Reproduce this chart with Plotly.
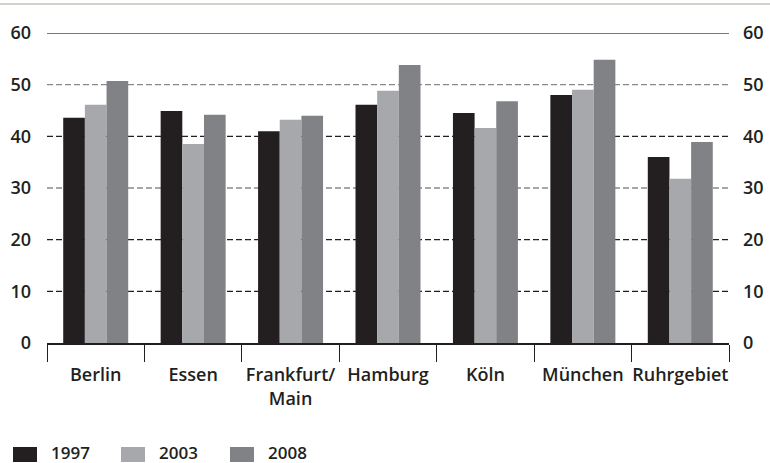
import plotly.graph_objects as go

# ---- data ----
cities = ["Berlin", "Essen", "Frankfurt/<br>Main", "Hamburg", "Köln", "München", "Ruhrgebiet"]
series_names = ["1997", "2003", "2008"]
v1997 = [43.6, 44.9, 41.0, 46.1, 44.5, 48.0, 36.0]
v2003 = [46.1, 38.5, 43.2, 48.8, 41.6, 49.0, 31.8]
v2008 = [50.7, 44.2, 44.0, 53.8, 46.8, 54.8, 38.9]
y_ticks = [0, 10, 20, 30, 40, 50, 60]

series_values = [v1997, v2003, v2008]
colors = ["#231f20", "#a7a8ab", "#808285"]
text_color = "#231f20"
FONT = "Open Sans"

W, H = 770, 463
ML, MR, MT, MB = 47, 41, 33, 120
PW, PH = W - ML - MR, H - MT - MB


def px_x(px):
    return (px - ML) / PW


def px_y(py):
    return (H - MB - py) / PH


fig = go.Figure()
for name, vals, col in zip(series_names, series_values, colors):
    fig.add_trace(go.Bar(x=cities, y=vals, name=name, marker=dict(color=col, line=dict(width=0)),
                         showlegend=False))

# invisible trace for right axis
fig.add_trace(go.Scatter(x=cities, y=v1997, yaxis="y2", mode="markers",
                         marker=dict(opacity=0), showlegend=False, hoverinfo="skip"))

shapes = []
grid_colors = {10: "#231f20", 20: "#231f20", 30: "#8a8a8a", 40: "#231f20", 50: "#8a8a8a"}
for t in y_ticks:
    if t == 0:
        continue
    if t == 60:
        shapes.append(dict(type="line", xref="paper", yref="y", x0=0, x1=1, y0=t, y1=t,
                           line=dict(color="#4d4d4d", width=1.6), layer="below"))
    else:
        shapes.append(dict(type="line", xref="paper", yref="y", x0=0, x1=1, y0=t, y1=t,
                           line=dict(color=grid_colors[t], width=1.3, dash="6px,3px"), layer="below"))

# top border line
shapes.append(dict(type="line", xref="paper", yref="paper", x0=px_x(0), x1=px_x(W),
                   y0=px_y(4), y1=px_y(4), line=dict(color="#a8a496", width=1.2)))

# custom legend
annotations = []
leg_x = [13, 121, 230]
for i, (name, col) in enumerate(zip(series_names, colors)):
    x0 = leg_x[i]
    shapes.append(dict(type="rect", xref="paper", yref="paper",
                       x0=px_x(x0), x1=px_x(x0 + 24), y0=px_y(447), y1=px_y(462),
                       fillcolor=col, line=dict(width=0)))
    annotations.append(dict(xref="paper", yref="paper", x=px_x(x0 + 36), y=px_y(452),
                            text=name, showarrow=False, xanchor="left", yanchor="middle",
                            font=dict(family=FONT, size=17, color=text_color, weight=600)))

fig.update_layout(
    width=W, height=H,
    margin=dict(l=ML, r=MR, t=MT, b=MB, autoexpand=False),
    plot_bgcolor="white", paper_bgcolor="white",
    barmode="group", bargap=0.333, bargroupgap=0,
    font=dict(family=FONT, color=text_color),
    shapes=shapes, annotations=annotations,
    xaxis=dict(
        type="category", tickson="boundaries", ticks="outside", ticklen=17, tickwidth=1.2,
        tickcolor=text_color, showline=True, linecolor=text_color, linewidth=1.6,
        showgrid=False, tickangle=0, automargin=False, ticklabelstandoff=15,
        tickfont=dict(family=FONT, size=18, color=text_color, weight=600),
    ),
    yaxis=dict(
        range=[0, 60], tickvals=y_ticks, showgrid=False, zeroline=False, showline=False,
        ticks="", ticklabelstandoff=15, automargin=False,
        tickfont=dict(family=FONT, size=18, color=text_color, weight=600),
    ),
    yaxis2=dict(
        range=[0, 60], tickvals=y_ticks, overlaying="y", side="right", showgrid=False,
        zeroline=False, showline=False, ticks="", ticklabelstandoff=13, automargin=False,
        tickfont=dict(family=FONT, size=18, color=text_color, weight=600),
    ),
)

fig.write_html(
    "out.html",
    config={"displayModeBar": False},
    post_script="document.body.style.margin='0';document.body.style.padding='0';"
                "document.body.style.overflow='hidden';",
)
